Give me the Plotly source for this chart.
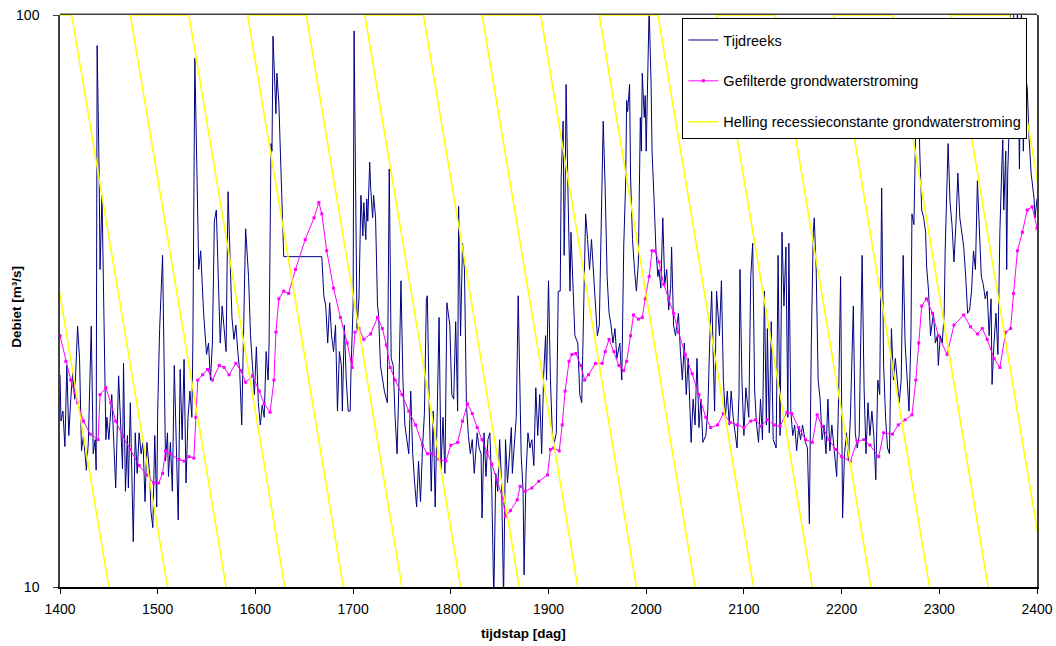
import plotly.graph_objects as go

# ---------------- data ----------------
tijd_t = [1400,1401,1403,1405,1407,1409,1411,1413,1415,1418,1420,1422,1424,1427,1429,1432,1434,1436,1437,1438,
          1440,1441,1443,1445,1447,1448,1450,1453,1455,1457,1460,1462,1464,1465,1467,1469,1470,1472,1475,1477,
          1479,1481,1483,1485,1487,1489,1492,1493,1495,1497,1499,1500,1502,1505,1506,1508,1510,1511,1513,1515,
          1517,1519,1521,1523,1525,1527,1529,1531,1533,1535,1536,1538,1540,1542,1544,1545,1547,1550,1552,1554,
          1556,1558,1560,1562,1564,1566,1568,1570,1572,1574,1576,1578,1580,1582,1584,1586,1588,1590,1593,1595,
          1597,1599,1601,1603,1605,1607,1609,1611,1613,1614,1616,1617,1618,1620,1621,1622,1624,1626,1628,1629,
          1668,1670,1672,1674,1676,1678,1680,1682,1684,1686,1688,1689,1691,1693,1695,1697,1698,1700,1701,1703,
          1704,1706,1708,1710,1711,1713,1714,1715,1717,1718,1720,1721,1723,1725,1726,1728,1730,1732,1735,1737,
          1739,1741,1743,1745,1747,1749,1751,1753,1755,1757,1759,1761,1763,1765,1767,1769,1771,1773,1775,1776,
          1778,1780,1782,1784,1786,1788,1790,1792,1794,1796,1799,1801,1803,1805,1807,1808,1810,1812,1814,1816,
          1818,1820,1822,1824,1827,1829,1831,1832,1834,1836,1838,1840,1842,1844,1846,1848,1850,1852,1854,1856,
          1858,1860,1862,1863,1865,1867,1869,1872,1874,1875,1877,1879,1881,1883,1885,1887,1889,1891,1893,1895,
          1897,1898,1900,1902,1904,1906,1908,1910,1912,1913,1915,1916,1917,1918,1920,1922,1923,1925,1927,1930,
          1932,1934,1936,1938,1940,1942,1944,1946,1948,1950,1952,1954,1956,1958,1960,1962,1964,1966,1968,1970,
          1973,1975,1977,1979,1980,1981,1983,1984,1986,1988,1990,1992,1994,1995,1996,1998,1999,2000,2002,2003,
          2005,2006,2008,2010,2012,2013,2015,2017,2019,2021,2023,2025,2026,2028,2030,2033,2035,2037,2039,2041,
          2043,2045,2046,2048,2050,2052,2054,2056,2058,2061,2063,2065,2067,2070,2072,2075,2077,2079,2081,2083,
          2085,2087,2089,2091,2093,2095,2096,2098,2100,2102,2105,2107,2109,2111,2113,2115,2117,2119,2121,2123,
          2124,2126,2128,2130,2133,2135,2137,2139,2141,2143,2145,2146,2148,2150,2152,2154,2156,2158,2160,2163,
          2165,2167,2169,2171,2172,2174,2176,2178,2180,2182,2184,2186,2188,2190,2193,2195,2197,2199,2201,2203,
          2205,2207,2209,2211,2212,2214,2216,2218,2221,2223,2225,2227,2229,2231,2233,2235,2237,2239,2241,2243,
          2245,2247,2249,2251,2253,2255,2257,2259,2261,2263,2265,2267,2269,2271,2272,2274,2275,2276,2278,2280,
          2282,2284,2286,2287,2289,2291,2294,2296,2298,2299,2301,2303,2305,2306,2309,2311,2313,2315,2317,2319,
          2321,2323,2325,2327,2329,2331,2333,2335,2337,2339,2341,2343,2345,2347,2349,2351,2353,2354,2356,2358,
          2360,2361,2362,2364,2365,2366,2368,2369,2370,2372,2373,2376,2378,2380,2382,2384,2386,2388,2390,2392,
          2394,2397,2398,2400]
tijd_q = [23.5,19.5,20.3,17.6,24.4,18.4,21.3,23.7,21.3,28.6,25.1,17.3,18.4,16.0,17.9,28.6,17.1,18.1,16.0,88.4,
          53.8,35.9,48.4,31.0,18.1,19.8,18.1,21.7,18.4,14.9,23.4,19.8,16.1,24.6,14.7,18.4,14.9,21.0,12.0,18.6,
          15.8,18.6,17.1,17.9,14.1,17.9,15.6,13.6,12.7,18.4,13.8,20.3,28.3,38.0,26.7,16.6,18.6,15.6,17.9,14.7,
          24.4,18.1,13.1,24.0,18.1,25.0,15.2,19.8,22.0,19.8,26.7,84.0,56.2,35.9,38.7,34.9,30.1,25.5,26.7,23.0,
          26.7,43.6,45.6,34.9,26.7,31.0,27.9,25.8,49.1,35.9,29.6,27.1,28.7,25.8,23.7,19.2,28.3,42.3,34.9,27.5,
          24.4,21.7,26.3,21.0,19.2,20.8,19.8,25.8,23.0,26.7,59.6,57.8,91.8,75.6,67.2,79.1,70.2,54.6,41.7,37.8,
          37.8,32.3,31.0,26.7,31.4,27.5,25.8,28.7,20.3,25.8,24.4,20.3,28.7,23.0,20.3,20.3,24.4,31.0,93.8,48.4,
          28.3,31.9,48.4,41.1,47.0,40.5,47.7,43.6,55.3,49.8,44.2,48.4,44.2,31.0,30.1,24.4,23.0,22.0,21.0,53.8,
          25.1,24.4,19.8,17.1,23.0,34.3,23.0,19.2,18.1,17.1,22.0,17.1,15.2,13.8,16.6,14.1,17.5,20.1,31.9,32.3,
          20.3,14.7,20.3,13.8,19.8,29.6,16.1,19.8,15.8,31.4,28.7,21.7,21.3,29.1,20.3,46.3,27.5,39.9,35.9,20.8,
          18.4,17.1,18.1,15.8,18.6,17.5,17.1,13.2,18.6,15.6,18.1,18.6,14.7,9.5,15.8,14.7,18.1,15.2,9.5,18.1,
          15.2,17.1,19.0,15.8,17.5,19.8,32.3,17.1,14.7,10.5,15.8,18.6,17.5,18.1,16.3,22.3,18.4,21.7,17.1,23.4,
          27.5,23.0,34.3,23.0,18.4,17.9,18.6,32.9,32.9,52.1,65.2,38.0,48.4,75.6,48.4,32.9,41.7,34.9,27.5,26.7,
          21.7,21.0,31.0,44.9,40.5,35.9,40.5,35.9,31.0,27.5,28.7,44.2,65.2,49.8,34.9,30.1,28.7,26.7,28.3,25.1,
          26.7,23.0,39.3,51.3,70.9,67.8,75.6,52.1,40.5,35.9,32.9,37.0,66.2,57.8,79.1,66.2,72.3,57.8,85.3,103.0,
          75.6,57.8,47.7,38.7,34.9,35.9,33.3,44.2,33.8,35.9,30.5,33.3,39.3,28.7,27.5,30.1,25.8,23.0,26.7,21.7,
          25.1,19.8,17.9,21.3,19.2,25.1,19.0,21.3,17.9,18.4,20.3,26.7,32.9,20.3,32.9,27.5,34.3,23.0,19.8,22.0,
          19.2,22.0,19.8,18.6,17.5,21.7,35.9,23.0,18.4,22.3,19.8,34.9,39.9,22.0,19.2,17.9,21.3,18.1,32.9,19.2,
          28.3,18.6,29.1,18.1,17.5,38.0,18.4,41.7,31.0,39.3,19.8,39.9,20.3,18.4,19.2,17.3,19.0,18.1,19.2,17.9,
          17.5,12.9,26.7,41.7,44.2,35.9,23.0,21.3,18.1,19.2,17.1,21.3,17.3,19.2,17.1,15.6,21.7,34.9,13.2,17.1,
          18.6,16.6,19.8,25.8,31.0,18.6,17.5,18.4,38.0,22.3,17.1,21.0,18.4,20.3,18.4,15.4,23.0,21.7,49.8,24.4,
          19.8,17.5,17.1,28.3,23.0,25.1,22.6,21.0,23.0,38.0,26.7,23.7,20.3,27.5,44.9,43.0,57.8,65.2,85.3,57.8,
          45.6,44.2,41.7,36.4,32.9,27.5,30.1,26.7,27.5,24.4,27.5,26.7,30.1,38.7,59.6,47.0,43.0,37.0,43.0,52.9,
          44.2,41.7,39.3,34.9,30.1,30.5,32.9,38.7,35.9,51.3,41.7,34.9,33.8,31.9,32.9,27.5,31.9,22.6,26.7,30.1,
          25.5,35.9,41.7,54.6,60.5,45.6,57.8,35.9,52.9,67.2,104.0,104.0,65.2,104.0,53.8,104.0,57.8,79.1,74.6,60.5,
          52.9,47.7,44.2,47.7]

gefilterd_t = [1400,1406,1411,1418,1424,1431,1439,1441,1447,1452,1457,1464,1472,1481,1489,1496,1501,1505,1508,1513,
               1522,1527,1532,1537,1539,1541,1546,1551,1556,1563,1568,1573,1580,1585,1590,1597,1604,1609,1615,1619,
               1621,1624,1629,1634,1641,1651,1660,1665,1668,1673,1680,1687,1694,1699,1702,1706,1711,1718,1725,1730,
               1734,1738,1743,1750,1757,1764,1771,1776,1781,1788,1795,1800,1807,1812,1817,1822,1827,1832,1837,1842,
               1847,1853,1856,1861,1868,1871,1876,1883,1890,1899,1902,1905,1911,1914,1917,1921,1924,1928,1933,1937,
               1941,1948,1955,1958,1962,1967,1972,1977,1980,1984,1987,1992,1996,1999,2003,2006,2009,2013,2018,2023,
               2028,2033,2040,2047,2054,2061,2066,2073,2079,2086,2093,2100,2107,2112,2117,2124,2131,2137,2144,2149,
               2156,2163,2170,2175,2180,2187,2194,2200,2209,2216,2223,2229,2238,2243,2252,2258,2265,2272,2276,2279,
               2282,2287,2293,2299,2308,2315,2325,2332,2339,2344,2349,2356,2362,2368,2373,2376,2380,2385,2390,2395,
               2400]
gefilterd_q = [27.5,24.8,23.0,21.0,19.5,18.5,18.1,21.7,22.3,21.0,19.5,18.4,17.4,16.3,15.7,15.2,15.2,15.8,17.3,17.1,
               16.7,16.6,16.9,16.8,19.8,23.0,23.5,24.0,23.0,24.4,24.2,23.5,24.6,23.9,22.8,23.4,22.0,20.9,20.2,23.0,
               27.9,31.9,32.9,32.6,35.9,40.5,44.2,47.0,44.9,38.7,33.3,29.6,26.7,24.2,27.9,28.3,27.1,27.7,29.6,28.3,
               26.5,24.2,23.0,21.7,20.3,19.2,17.7,17.1,17.1,16.7,16.6,17.7,17.9,19.5,20.9,20.1,19.0,18.1,17.2,16.4,
               15.4,14.3,13.3,13.6,14.2,15.0,14.7,14.9,15.3,15.7,17.4,17.5,17.3,19.2,22.0,24.8,25.5,25.6,24.4,23.0,
               23.5,24.6,24.6,25.8,27.1,25.8,24.4,23.9,24.8,27.5,29.9,29.4,29.6,31.9,34.9,38.7,38.7,37.0,33.8,31.9,
               30.1,27.9,25.5,23.6,21.7,19.8,19.0,19.2,20.1,19.4,19.2,19.0,19.5,19.6,19.1,19.6,19.2,19.1,20.2,20.1,
               19.0,18.1,17.9,20.0,19.1,18.1,17.4,16.9,16.6,18.0,18.1,17.7,16.9,18.6,18.5,19.2,19.6,20.0,23.0,26.7,
               31.0,31.9,30.1,27.5,25.5,28.7,29.9,28.5,27.7,28.3,27.1,25.1,24.2,27.9,28.3,32.6,38.7,41.7,45.6,46.2,
               42.4]

# recession-constant slope lines: vertices (None separates drawn pieces;
# the pieces along the bottom edge are not drawn in the reference)
helling_t = [1352,1412,1510,None,1570,1472,1532,1630,None,1690,1592,1652,1750,None,1810,1712,1772,
             1870,None,1930,1832,1892,1990,None,2050,1952,2012,2110,None,2170,2072,2132,2230,None,
             2290,2192,2252,2350,None,2410,2312,2372,2470,None,1450,1352]
helling_q = [100,100,10,None,10,100,100,10,None,10,100,100,10,None,10,100,100,
             10,None,10,100,100,10,None,10,100,100,10,None,10,100,100,10,None,
             10,100,100,10,None,10,100,100,10,None,10,100]

x_ticks = [1400,1500,1600,1700,1800,1900,2000,2100,2200,2300,2400]
y_ticks = [10, 100]
y_ticklabels = ["10", "100"]

FONT = "Liberation Sans, Arial, sans-serif"

fig = go.Figure()

fig.add_trace(go.Scatter(
    x=tijd_t, y=tijd_q, mode="lines", name="Tijdreeks",
    line=dict(color="#000080", width=1), legendgroup="a"))

fig.add_trace(go.Scatter(
    x=gefilterd_t, y=gefilterd_q, mode="lines+markers",
    name="Gefilterde grondwaterstroming",
    line=dict(color="#FF00FF", width=1),
    marker=dict(symbol="square", size=3, color="#FF00FF"), legendgroup="b"))

fig.add_trace(go.Scatter(
    x=helling_t, y=helling_q, mode="lines", connectgaps=False,
    name="Helling recessieconstante grondwaterstroming",
    line=dict(color="#FFFF00", width=1.5), legendgroup="c"))

fig.update_layout(
    width=1056, height=646,
    margin=dict(l=60, r=19, t=15, b=59, autoexpand=False),
    paper_bgcolor="white", plot_bgcolor="white",
    font=dict(family=FONT, size=14, color="black"),
    showlegend=True,
    legend=dict(x=0.637, y=0.995, xanchor="left", yanchor="top",
                bgcolor="white", bordercolor="black", borderwidth=1,
                font=dict(family=FONT, size=14.5, color="black"),
                title=dict(text=" ", font=dict(size=4)),
                traceorder="grouped", tracegroupgap=19),
    xaxis=dict(range=[1400, 2400], tickvals=x_ticks, ticks="outside", ticklen=5,
               tickcolor="black", showline=True, linecolor="black", linewidth=2,
               showgrid=False, zeroline=False, automargin=False, ticklabelstandoff=3,
               tickfont=dict(family=FONT, size=14, color="black")),
    yaxis=dict(type="log", range=[1, 2], tickvals=y_ticks, ticktext=y_ticklabels,
               ticks="outside", ticklen=5, tickcolor="#404040",
               showline=True, mirror=True, linecolor="#404040", linewidth=1.5,
               showgrid=False, zeroline=False, automargin=False, ticklabelstandoff=11,
               tickfont=dict(family=FONT, size=14, color="black")),
    shapes=[dict(type="line", xref="paper", yref="paper", x0=0, x1=1, y0=1.0015, y1=1.0015,
                 line=dict(color="#404040", width=1.5), layer="below")],
    annotations=[
        dict(text="<b>tijdstap [dag]</b>", xref="paper", yref="paper", x=0.474, y=-0.081,
             showarrow=False, xanchor="center", yanchor="middle",
             font=dict(family=FONT, size=13.5, color="black")),
        dict(text="<b>Debiet [m³/s]</b>", xref="paper", yref="paper", x=-0.044, y=0.49,
             showarrow=False, xanchor="center", yanchor="middle", textangle=-90,
             font=dict(family=FONT, size=13.5, color="black")),
    ],
)

fig.write_html("out.html")
